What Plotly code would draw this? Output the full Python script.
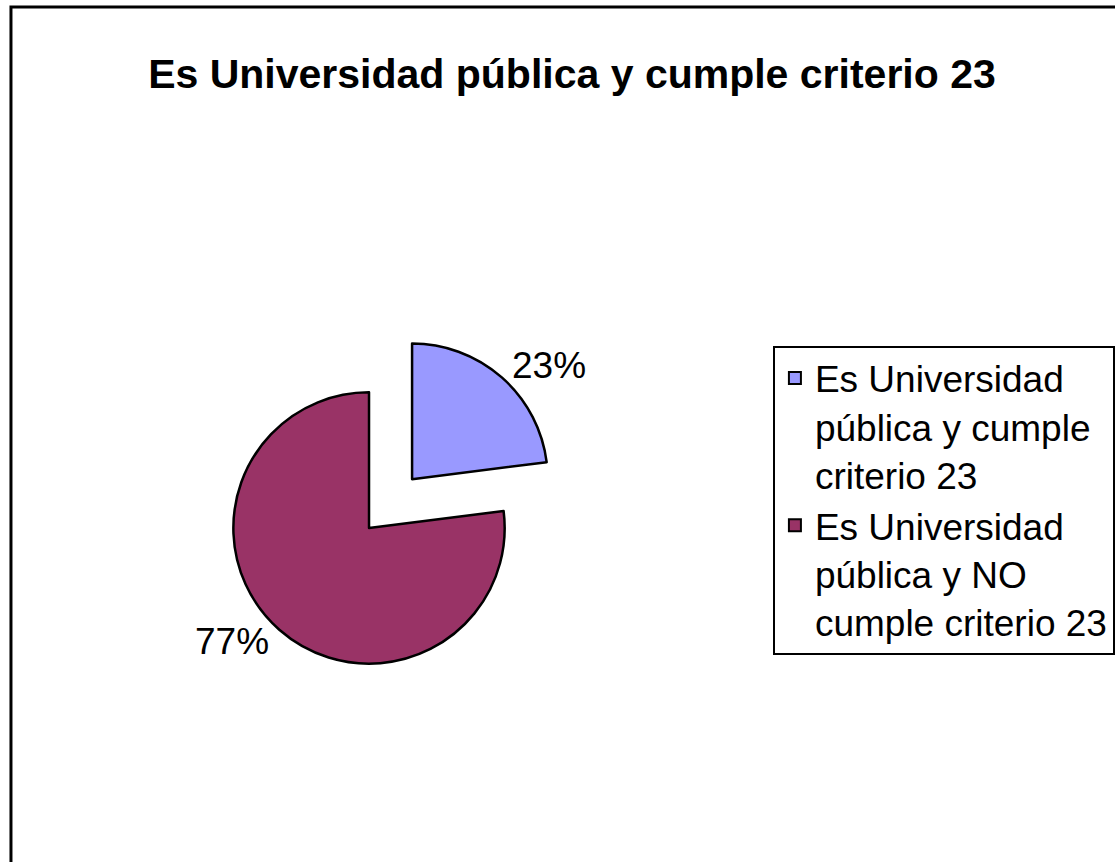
import plotly.graph_objects as go

title_text = "Es Universidad pública y cumple criterio 23"
labels = [
    "Es Universidad<br>pública y cumple<br>criterio 23",
    "Es Universidad<br>pública y NO<br>cumple criterio 23",
]
values = [23, 77]
colors = ["#9999FF", "#993366"]
pulls = [0.48, 0.0]

fig = go.Figure()
fig.add_trace(go.Pie(
    labels=labels,
    values=values,
    sort=False,
    direction="clockwise",
    rotation=0,
    pull=pulls,
    marker=dict(colors=colors, line=dict(color="black", width=2.5)),
    textinfo="percent",
    textposition="outside",
    texttemplate="%{percent:.0%}",
    outsidetextfont=dict(family="Liberation Sans, Arial, sans-serif", size=37, color="black"),
    domain=dict(x=[0.1513, 0.5124], y=[0.1539, 0.6210]),
    hoverinfo="label+percent",
))

fig.update_layout(
    width=1115,
    height=862,
    margin=dict(l=0, r=0, t=0, b=0),
    paper_bgcolor="white",
    plot_bgcolor="white",
    title=dict(
        text="<b>" + title_text + "</b>",
        x=0.513, xanchor="center",
        y=0.915, yanchor="middle", yref="container",
        font=dict(family="Liberation Sans, Arial, sans-serif", size=41, color="black"),
    ),
    legend=dict(
        x=775 / 1115, xanchor="left",
        y=1 - 500 / 862, yanchor="middle",
        valign="top",
        bordercolor="black", borderwidth=2,
        bgcolor="white",
        font=dict(family="Liberation Sans, Arial, sans-serif", size=37, color="black"),
        itemsizing="constant",
    ),
    shapes=[
        dict(type="rect", xref="paper", yref="paper",
             x0=11 / 1115, x1=1.05, y0=-0.05, y1=1 - 7 / 862,
             line=dict(color="black", width=3), fillcolor="rgba(0,0,0,0)", layer="above"),
    ],
)

fig.write_html("out.html")
